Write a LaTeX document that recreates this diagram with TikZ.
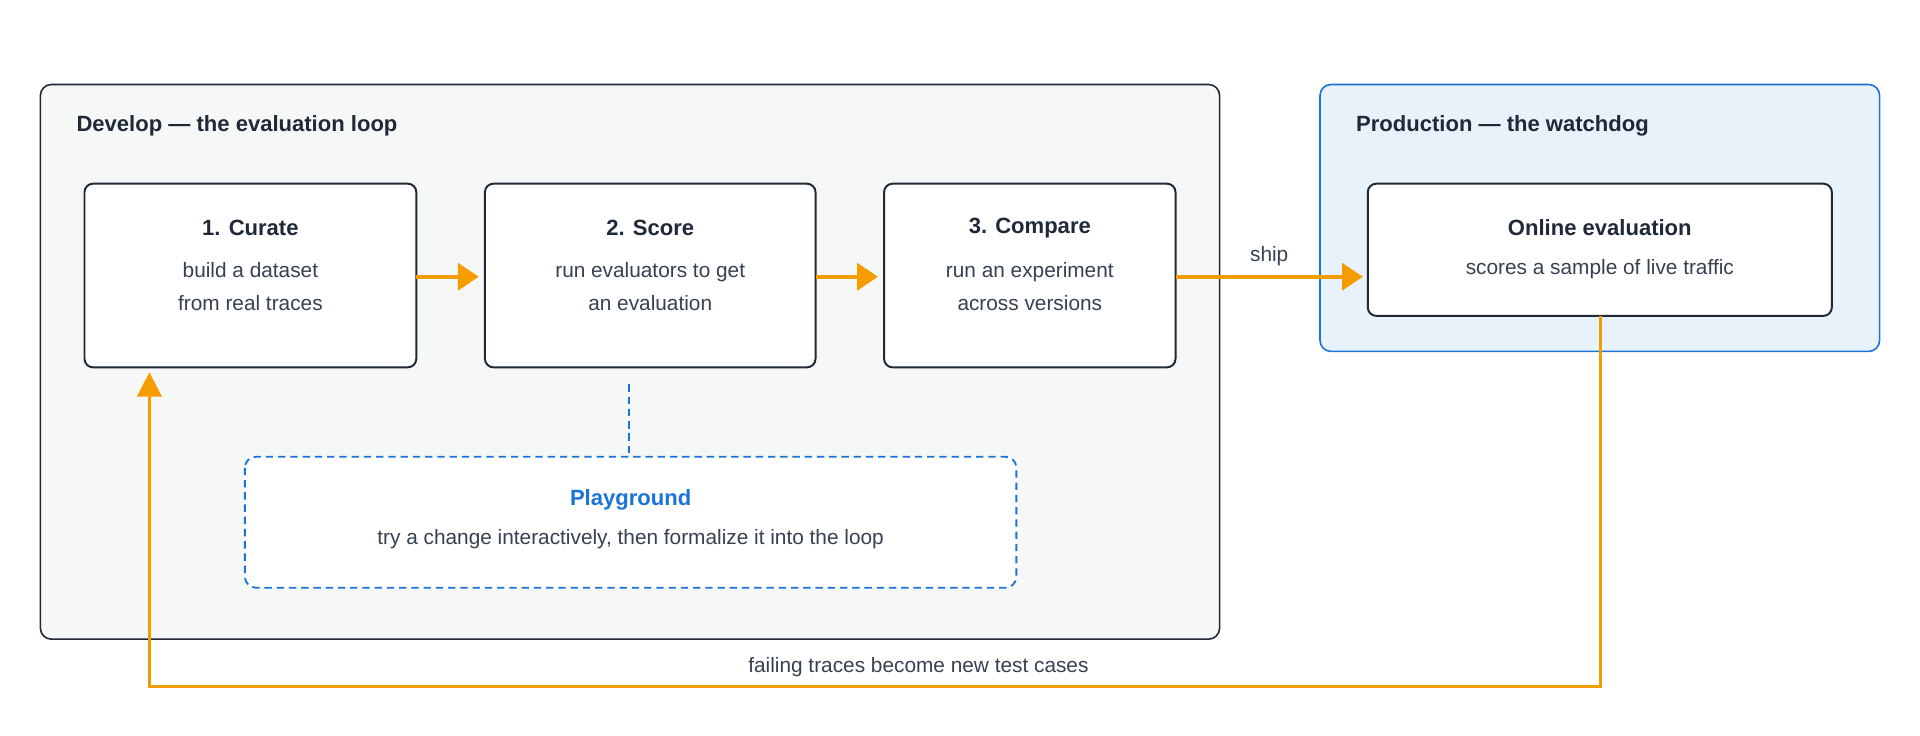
\documentclass[tikz,border=0pt]{standalone}
\usepackage{fontspec}
\setmainfont{Liberation Sans}
\usetikzlibrary{arrows.meta,positioning}
\definecolor{ink}{HTML}{1F2937}
\definecolor{txt}{HTML}{374151}
\definecolor{devfill}{HTML}{F6F8F7}
\definecolor{prodfill}{HTML}{E8F2FA}
\definecolor{prodline}{HTML}{1A73D9}
\definecolor{flow}{HTML}{F59C00}

\tikzset{
    group/.style={rounded corners=9pt, line width=1.3pt},
    stage/.style={draw=ink, fill=white, rounded corners=7pt, line width=1.6pt},
    heading/.style={font=\bfseries\fontsize{18}{22}\selectfont, text=ink},
    body/.style={font=\fontsize{17}{27}\selectfont, text=txt, align=center},
    flowarrow/.style={draw=flow, line width=3pt, -{Triangle[length=17pt,width=22pt]}},
}

\begin{document}
\begin{tikzpicture}[x=1pt,y=-1pt]
    \useasboundingbox (0,0) rectangle (1568,601);

    % groups
    \draw[group, draw=ink, fill=devfill] (33,69) rectangle (996,522);
    \draw[group, draw=prodline, fill=prodfill] (1078,69) rectangle (1535,287);
    \node[heading, anchor=west] (devtitle) at (59,103) {Develop — the evaluation loop};
    \node[heading, anchor=west] (prodtitle) at (1104,103) {Production — the watchdog};

    % stages
    \draw[stage] (69,150) rectangle (340,300);
    \draw[stage] (396,150) rectangle (666,300);
    \draw[stage] (722,150) rectangle (960,300);
    \draw[stage] (1117,150) rectangle (1496,258);

    \node[heading] (curatehead) at (204.5,186) {1. Curate};
    \node[body] (curatetext) at (204.5,234) {build a dataset\\from real traces};
    \node[heading] (scorehead) at (531,186) {2. Score};
    \node[body] (scoretext) at (531,234) {run evaluators to get\\an evaluation};
    \node[heading] (comparehead) at (841,186) {3. Compare};
    \node[body] (comparetext) at (841,234) {run an experiment\\across versions};
    \node[heading] (onlinehead) at (1306.5,186) {Online evaluation};
    \node[body] (onlinetext) at (1306.5,220) {scores a sample of live traffic};

    % playground
    \draw[prodline, fill=white, dash pattern=on 6pt off 4pt, line width=1.5pt,
        rounded corners=9pt] (200,373) rectangle (830,480);
    \node[heading, text=prodline] (playhead) at (515,408) {Playground};
    \node[body] (playtext) at (515,440) {try a change interactively, then formalize it into the loop};
    \coordinate (scorebot) at (514,314);
    \coordinate (playtop) at (514,373);
    \draw[prodline, line width=1.5pt, dash pattern=on 6pt off 4pt] (scorebot) -- (playtop);

    % flow
    \coordinate (c1r) at (340,226);
    \coordinate (c2l) at (391,226);
    \coordinate (c2r) at (666,226);
    \coordinate (c3l) at (717,226);
    \coordinate (c3r) at (960,226);
    \coordinate (onl) at (1113,226);
    \draw[flowarrow] (c1r) -- (c2l);
    \draw[flowarrow] (c2r) -- (c3l);
    \draw[flowarrow] (c3r) -- (onl) node[body, midway, above=4pt] {ship};

    % feedback
    \coordinate (onb) at (1307,258);
    \coordinate (corner) at (1307,561);
    \coordinate (cub) at (122,304);
    \draw[draw=flow, line width=2.5pt, -{Triangle[length=20pt,width=20pt]}]
        (onb) -- (corner) -- (122,561)
        node[body, pos=0.47, above=4pt] {failing traces become new test cases} -- (cub);
\end{tikzpicture}
\end{document}
